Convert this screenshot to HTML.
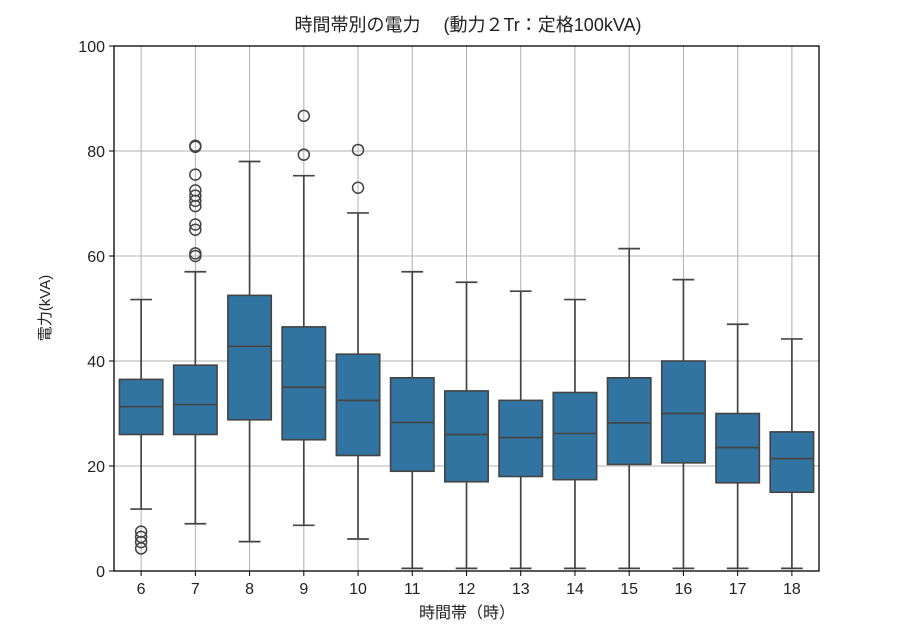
<!DOCTYPE html>
<html><head><meta charset="utf-8"><style>body{margin:0;background:#fff}svg{display:block}text{font-family:"Liberation Sans","Noto Sans CJK JP",sans-serif;fill:#222}</style></head>
<body>
<svg id="s" width="910" height="640" viewBox="0 0 910 640" xmlns="http://www.w3.org/2000/svg">
<g id="grid" stroke="#b0b0b0" stroke-width="1"></g>
<g id="boxes"></g>
<rect x="114" y="46" width="705" height="525" fill="none" stroke="#000" stroke-width="1.3"/>
<g id="ticks" stroke="#000" stroke-width="1"></g>
<g id="labels" font-size="16"></g>
<text x="468" y="31" font-size="18" text-anchor="middle">時間帯別の電力　 (動力２Tr：定格100kVA)</text>
<text x="467" y="618" font-size="16" text-anchor="middle">時間帯（時）</text>
<text transform="translate(50,308) rotate(-90)" font-size="15" text-anchor="middle">電力(kVA)</text>
</svg>
<script>
const ns="http://www.w3.org/2000/svg";
function el(p,t,a,txt){const e=document.createElementNS(ns,t);for(const k in a)e.setAttribute(k,a[k]);if(txt!==undefined)e.textContent=txt;document.getElementById(p).appendChild(e);}
const Y=v=>571-5.25*v, L=114, S=705/13, W=43.4;
const d=[
[11.8,26,31.3,36.5,51.7,[4.3,5.5,6.5,7.5]],
[9,26,31.7,39.2,57,[60,60.5,65,66,69.5,70.5,71.5,72.5,75.5,80.8,81]],
[5.6,28.8,42.8,52.5,78,[]],
[8.7,25,35,46.5,75.3,[79.3,86.7]],
[6.1,22,32.5,41.3,68.2,[73,80.2]],
[0.5,19,28.3,36.8,57,[]],
[0.5,17,26,34.3,55,[]],
[0.5,18,25.4,32.5,53.3,[]],
[0.5,17.4,26.2,34,51.7,[]],
[0.5,20.3,28.2,36.8,61.4,[]],
[0.5,20.6,30,40,55.5,[]],
[0.5,16.8,23.5,30,47,[]],
[0.5,15,21.4,26.5,44.2,[]]];
for(let v=0;v<=100;v+=20){el('grid','line',{x1:L,x2:819,y1:Y(v),y2:Y(v)});el('ticks','line',{x1:L-5,x2:L,y1:Y(v),y2:Y(v)});el('labels','text',{x:L-9,y:Y(v)+6,'text-anchor':'end'},v);}
d.forEach((b,i)=>{const c=L+S*(i+0.5);
el('grid','line',{x1:c,x2:c,y1:46,y2:571});
el('ticks','line',{x1:c,x2:c,y1:571,y2:576});
el('labels','text',{x:c,y:594,'text-anchor':'middle'},i+6);
const g='boxes',sc='#444';
el(g,'line',{x1:c,x2:c,y1:Y(b[0]),y2:Y(b[1]),stroke:sc,'stroke-width':1.7});
el(g,'line',{x1:c,x2:c,y1:Y(b[3]),y2:Y(b[4]),stroke:sc,'stroke-width':1.7});
el(g,'line',{x1:c-W/4,x2:c+W/4,y1:Y(b[0]),y2:Y(b[0]),stroke:sc,'stroke-width':1.7});
el(g,'line',{x1:c-W/4,x2:c+W/4,y1:Y(b[4]),y2:Y(b[4]),stroke:sc,'stroke-width':1.7});
el(g,'rect',{x:c-W/2,y:Y(b[3]),width:W,height:Y(b[1])-Y(b[3]),fill:'#3274a1',stroke:sc,'stroke-width':1.6});
el(g,'line',{x1:c-W/2,x2:c+W/2,y1:Y(b[2]),y2:Y(b[2]),stroke:sc,'stroke-width':1.7});
b[5].forEach(o=>el(g,'circle',{cx:c,cy:Y(o),r:5.5,fill:'none',stroke:sc,'stroke-width':1.5}));
});
</script>
</body></html>
